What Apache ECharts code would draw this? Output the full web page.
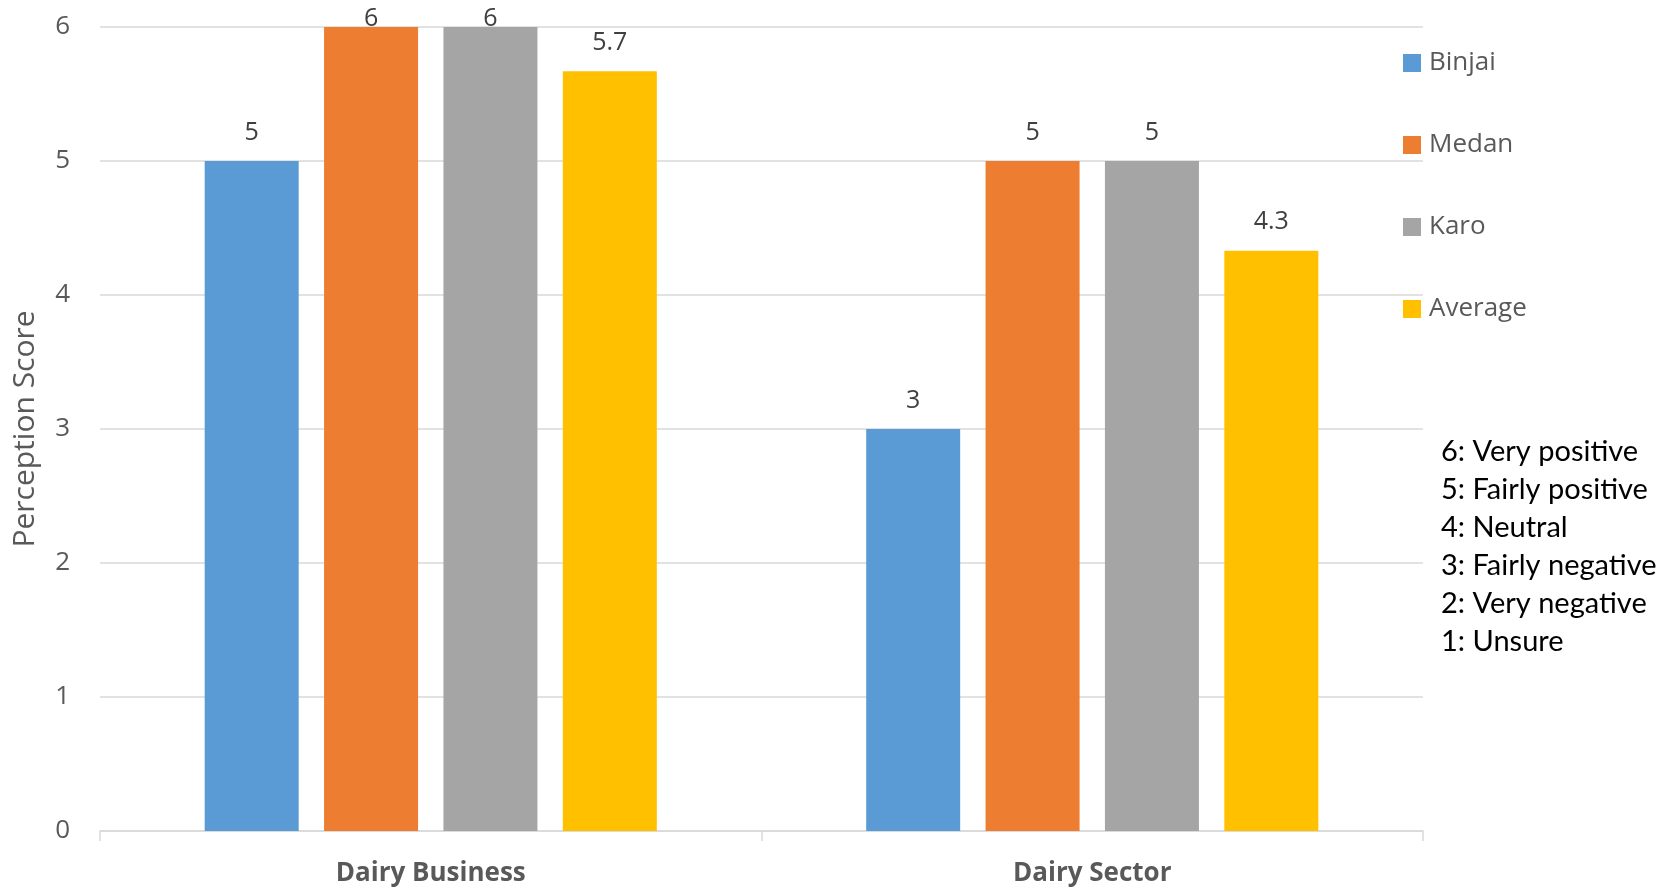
<!DOCTYPE html>
<html><head><meta charset="utf-8">
<script src="https://cdn.jsdelivr.net/npm/echarts@6/dist/echarts.min.js"></script>
<style>html,body{margin:0;padding:0;background:#fff}#c{width:1675px;height:888px}</style>
</head><body><div id="c"></div>
<script>
const categories = ['Dairy Business', 'Dairy Sector'];
const binjai = [5, 3];
const medan = [6, 5];
const karo = [6, 5];
const average = [5.67, 4.33];
const seriesNames = ['Binjai', 'Medan', 'Karo', 'Average'];
const colors = ['#5b9bd5', '#ed7d31', '#a5a5a5', '#ffc000'];
const yTicks = [0, 1, 2, 3, 4, 5, 6];
const scaleNotes = ['6: Very positive', '5: Fairly positive', '4: Neutral', '3: Fairly negative', '2: Very negative', '1: Unsure'];

const FONT = '"Open Sans", Lato, sans-serif';
const NOTE_FONT = 'Lato, "Open Sans", sans-serif';
const values = [binjai, medan, karo, average];
const yMax = yTicks[yTicks.length - 1];

const series = values.map((vals, i) => ({
  name: seriesNames[i],
  type: 'bar',
  barWidth: 94,
  barGap: '27%',
  itemStyle: { color: colors[i] },
  data: vals.map(v => ({
    value: v,
    label: { distance: v >= yMax ? -4 : 16 }
  })),
  label: {
    show: true,
    position: 'top',
    color: '#404040',
    fontFamily: FONT,
    fontSize: 25,
    formatter: p => (Math.round(p.value * 10) / 10).toString()
  }
}));

const chart = echarts.init(document.getElementById('c'), null, { renderer: 'canvas' });
chart.setOption({
  animation: false,
  backgroundColor: '#fff',
  textStyle: { fontFamily: FONT },
  grid: { left: 100, right: 252, top: 27, bottom: 57, containLabel: false },
  legend: {
    orient: 'vertical',
    left: 1398,
    top: 45,
    itemWidth: 18,
    itemHeight: 18,
    itemGap: 56,
    icon: 'rect',
    data: seriesNames,
    textStyle: { fontFamily: FONT, fontSize: 26, color: '#595959', lineHeight: 26, padding: [0, 0, 0, 3] }
  },
  xAxis: {
    type: 'category',
    data: categories,
    axisLine: { lineStyle: { color: '#d9d9d9', width: 1.5 } },
    axisTick: { show: true, length: 10, lineStyle: { color: '#d9d9d9', width: 1.5 } },
    axisLabel: { fontFamily: FONT, fontSize: 26, fontWeight: 'bold', color: '#595959', margin: 30 }
  },
  yAxis: {
    type: 'value',
    min: 0,
    max: yMax,
    interval: 1,
    name: 'Perception Score',
    nameLocation: 'middle',
    nameGap: 60,
    nameTextStyle: { fontFamily: FONT, fontSize: 30, color: '#595959' },
    axisLine: { show: false },
    axisTick: { show: false },
    axisLabel: { fontFamily: FONT, fontSize: 26, color: '#595959', margin: 30 },
    splitLine: { lineStyle: { color: '#d9d9d9', width: 1.5 } }
  },
  graphic: [{
    type: 'text',
    left: 1441,
    top: 433,
    style: {
      text: scaleNotes.join('\n'),
      fontFamily: NOTE_FONT,
      fontSize: 29,
      lineHeight: 38,
      fill: '#000'
    }
  }],
  series: series
});
</script>
</body></html>
